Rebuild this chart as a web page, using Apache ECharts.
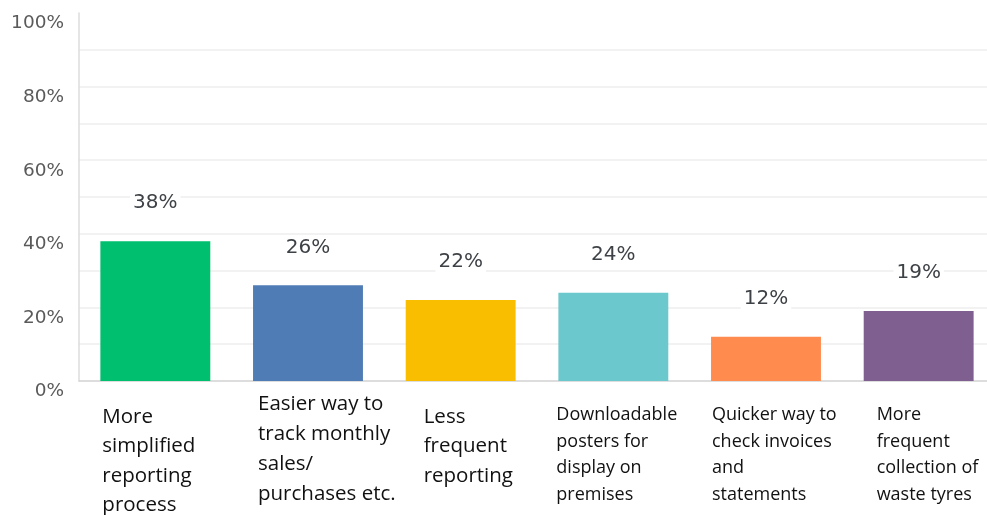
<!DOCTYPE html>
<html>
<head>
<meta charset="utf-8">
<script src="https://cdn.jsdelivr.net/npm/echarts@6/dist/echarts.min.js"></script>
<style>
  html, body { margin: 0; padding: 0; background: #ffffff; }
  #chart { width: 987px; height: 515px; }
</style>
</head>
<body>
<div id="chart"></div>
<script>
// Survey answers: which improvements respondents would like
const categories = [
  ['More', 'simplified', 'reporting', 'process'],
  ['Easier way to', 'track monthly', 'sales/', 'purchases etc.'],
  ['Less', 'frequent', 'reporting'],
  ['Downloadable', 'posters for', 'display on', 'premises'],
  ['Quicker way to', 'check invoices', 'and', 'statements'],
  ['More', 'frequent', 'collection of', 'waste tyres']
];
const values = [38, 26, 22, 24, 12, 19];
const barColors = ['#00BF6F', '#507CB6', '#F9BE00', '#6BC8CD', '#FF8B4F', '#7F5F90'];
const yTicks = [0, 20, 40, 60, 80, 100];

// per-category label typography: [fontSize, lineHeight, leftIndent, topSpacer]
const labelStyles = [
  [20.5, 29.5, 7, 13],
  [20.5, 30, 10, 0],
  [20.5, 29.5, 23, 13],
  [18, 26.5, 3, 13],
  [18, 26.5, 6, 13],
  [18, 26.5, 18, 13]
];

const rich = {};
labelStyles.forEach(function (s, i) {
  rich['sp' + i] = { lineHeight: s[3], fontSize: 8, align: 'left' };
  rich['c' + i] = {
    fontFamily: 'Open Sans',
    fontSize: s[0],
    lineHeight: s[1],
    color: '#111111',
    align: 'left',
    padding: [0, 0, 0, s[2]]
  };
});

const chart = echarts.init(document.getElementById('chart'), null, { renderer: 'canvas' });
chart.setOption({
  animation: false,
  grid: {
    left: 79, top: 13, width: 916, height: 368,
    containLabel: false,
    outerBoundsMode: 'none'
  },
  xAxis: {
    type: 'category',
    data: categories.map(function (c) { return c.join('\n'); }),
    axisLine: { show: true, lineStyle: { color: '#d6d6d6', width: 1.5 } },
    axisTick: { show: false },
    axisLabel: {
      interval: 0,
      margin: 8,
      width: 120,
      overflow: 'none',
      rich: rich,
      formatter: function (value, index) {
        const s = labelStyles[index];
        const lines = value.split('\n').map(function (l) { return '{c' + index + '|' + l + '}'; });
        if (s[3] > 0) lines.unshift('{sp' + index + '| }');
        return lines.join('\n');
      }
    }
  },
  yAxis: {
    type: 'value',
    min: 0,
    max: 100,
    interval: 10,
    axisLine: { show: true, lineStyle: { color: '#dcdcdc', width: 1.5 } },
    axisTick: { show: false },
    splitLine: { show: true, showMaxLine: false, lineStyle: { color: '#eeeeee', width: 1.5 } },
    axisLabel: {
      margin: 15,
      color: '#5a5a5a',
      fontFamily: 'DejaVu Sans',
      fontSize: 18.5,
      verticalAlign: 'top',
      lineHeight: 21,
      formatter: function (v) { return yTicks.indexOf(v) >= 0 ? v + '%' : ''; }
    }
  },
  series: [{
    type: 'bar',
    barCategoryGap: '28%',
    data: values.map(function (v, i) {
      return { value: v, itemStyle: { color: barColors[i] } };
    }),
    label: {
      show: true,
      position: 'top',
      distance: 26,
      formatter: '{c}%',
      color: '#3e4246',
      fontFamily: 'DejaVu Sans',
      fontSize: 20,
      backgroundColor: '#ffffff',
      padding: [2, 3, 2, 3]
    }
  }]
});
</script>
</body>
</html>
